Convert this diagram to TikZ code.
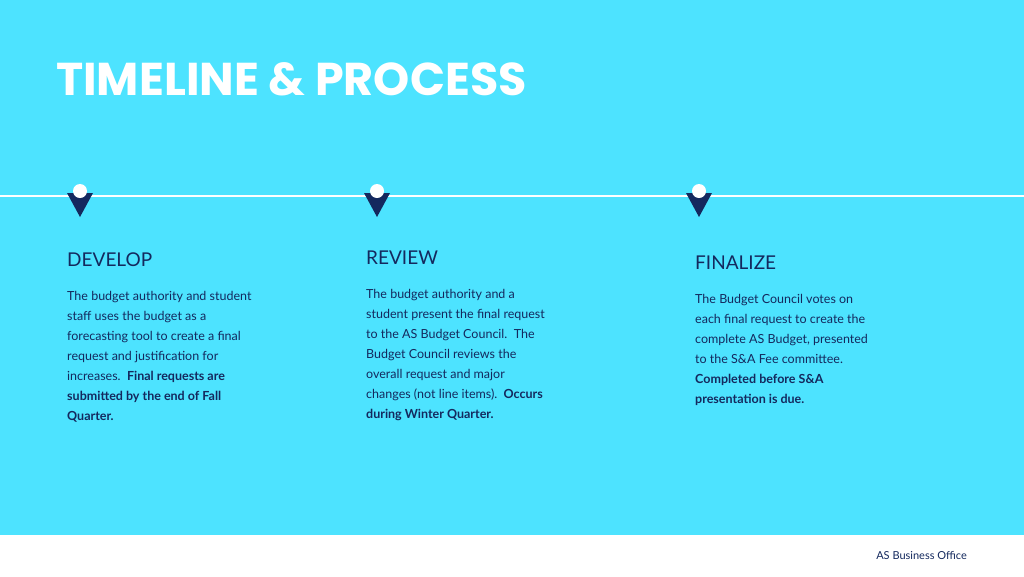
\documentclass[tikz,border=0pt]{standalone}
\usepackage{fontspec}
\setmainfont{Lato}
\newfontfamily\titlefont{Poppins}
\definecolor{bg}{HTML}{4DE3FF}
\definecolor{navy}{HTML}{14295E}
\begin{document}
\begin{tikzpicture}[x=1pt,y=-1pt,
  body/.style={anchor=north west,align=left,text=navy,font=\fontsize{12.5}{20}\selectfont,inner sep=0pt},
  head/.style={anchor=west,text=navy,font=\fontsize{19}{22}\selectfont,inner sep=0pt},
  pin/.pic={\fill[navy] (-13,-3) -- (13,-3) -- (0,21) -- cycle; \fill[white] (0,-5) circle (7);}]
\useasboundingbox (0,0) rectangle (1024,576);
\fill[bg] (0,0) rectangle (1024,535);
\fill[white] (0,535) rectangle (1024,576);
\node[anchor=west,text=white,inner sep=0pt,font=\titlefont\bfseries\fontsize{46}{50}\selectfont] (title) at (56,79) {TIMELINE \& PROCESS};
\draw[white,line width=2.2] (0,196) -- (1024,196);
\pic (p1) at (80,196) {pin};
\pic (p2) at (377,196) {pin};
\pic (p3) at (699,196) {pin};
\node[head] (h1) at (67,260) {DEVELOP};
\node[head] (h2) at (366,258) {REVIEW};
\node[head] (h3) at (695,263) {FINALIZE};
\node[body] (b1) at (67,291) {The budget authority and student\\staff uses the budget as a\\forecasting tool to create a final\\request and justification for\\increases.\ \ \textbf{Final requests are}\\\textbf{submitted by the end of Fall}\\\textbf{Quarter.}};
\node[body] (b2) at (366,289) {The budget authority and a\\student present the final request\\to the AS Budget Council.\ \ The\\Budget Council reviews the\\overall request and major\\changes (not line items).\ \ \textbf{Occurs}\\\textbf{during Winter Quarter.}};
\node[body] (b3) at (695,294) {The Budget Council votes on\\each final request to create the\\complete AS Budget, presented\\to the S\&A Fee committee.\\\textbf{Completed before S\&A}\\\textbf{presentation is due.}};
\node[anchor=east,text=navy,inner sep=0pt,font=\fontsize{11}{13}\selectfont] (f) at (967,555) {AS Business Office};
\end{tikzpicture}
\end{document}
